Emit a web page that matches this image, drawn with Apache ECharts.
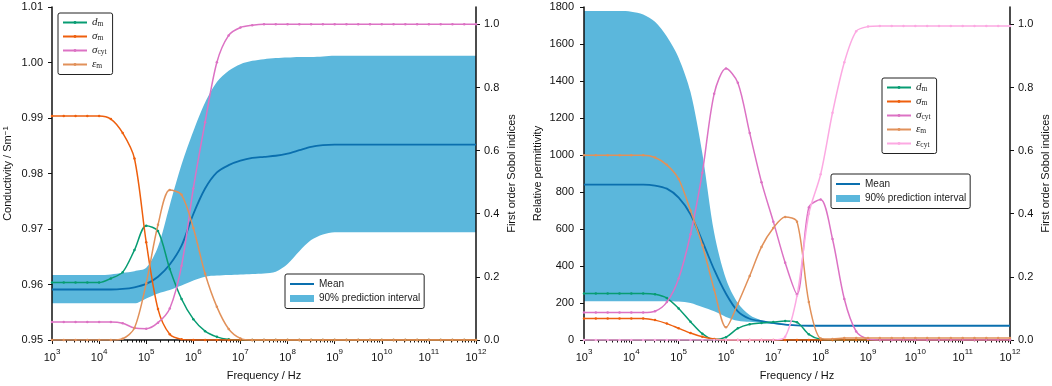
<!DOCTYPE html>
<html>
<head>
<meta charset="utf-8">
<script src="https://cdn.jsdelivr.net/npm/echarts@6/dist/echarts.min.js"></script>
<style>
  html, body { margin: 0; padding: 0; background: #fff; }
  #chart { width: 1052px; height: 386px; }
</style>
</head>
<body>
<div id="chart"></div>
<script>
// sample points, log10(frequency / Hz)
const logFreq = [3, 3.25, 3.5, 3.75, 4, 4.25, 4.5, 4.75, 5, 5.25, 5.5, 5.75, 6, 6.25, 6.5, 6.75,
  7, 7.25, 7.5, 7.75, 8, 8.25, 8.5, 8.75, 9, 9.25, 9.5, 9.75, 10, 10.25, 10.5, 10.75, 11, 11.25, 11.5, 11.75, 12];

// left panel: conductivity
const condMean = [0.9591, 0.9591, 0.9591, 0.9591, 0.9591, 0.9591, 0.9592, 0.9595, 0.9601, 0.9614, 0.9636, 0.9670,
  0.9727, 0.9773, 0.9802, 0.9815, 0.9823, 0.9828, 0.9830, 0.9832, 0.9836, 0.9842, 0.9848, 0.9851,
  0.9852, 0.9852, 0.9852, 0.9852, 0.9852, 0.9852, 0.9852, 0.9852, 0.9852, 0.9852, 0.9852, 0.9852, 0.9852];
const condUpper = [0.9617, 0.9617, 0.9617, 0.9617, 0.9617, 0.9618, 0.9621, 0.9624, 0.9630, 0.9668, 0.9743, 0.9816,
  0.9876, 0.9928, 0.9965, 0.9985, 0.9997, 1.0003, 1.0006, 1.0008, 1.0009, 1.0010, 1.0010, 1.0011,
  1.0012, 1.0012, 1.0012, 1.0012, 1.0012, 1.0012, 1.0012, 1.0012, 1.0012, 1.0012, 1.0012, 1.0012, 1.0012];
const condLower = [0.9566, 0.9566, 0.9566, 0.9566, 0.9566, 0.9566, 0.9566, 0.9566, 0.9575, 0.9584, 0.9590, 0.9598,
  0.9607, 0.9614, 0.9616, 0.9617, 0.9618, 0.9619, 0.9620, 0.9623, 0.9637, 0.9660, 0.9680, 0.9690,
  0.9694, 0.9694, 0.9694, 0.9694, 0.9694, 0.9694, 0.9694, 0.9694, 0.9694, 0.9694, 0.9694, 0.9694, 0.9694];
const condDm = [0.182, 0.182, 0.182, 0.182, 0.182, 0.195, 0.215, 0.285, 0.362, 0.345, 0.225, 0.130,
  0.066, 0.028, 0.010, 0.002, 0, 0, 0, 0, 0, 0, 0, 0, 0, 0, 0, 0, 0, 0, 0, 0, 0, 0, 0, 0, 0];
const condSigmaM = [0.710, 0.710, 0.710, 0.710, 0.710, 0.700, 0.656, 0.575, 0.310, 0.098, 0.018, 0.002,
  0, 0, 0, 0, 0, 0, 0, 0, 0, 0, 0, 0, 0, 0, 0, 0, 0, 0, 0, 0, 0, 0, 0, 0, 0];
const condSigmaCyt = [0.057, 0.057, 0.057, 0.057, 0.057, 0.057, 0.053, 0.038, 0.036, 0.055, 0.100, 0.235,
  0.480, 0.690, 0.880, 0.965, 0.990, 0.997, 1, 1, 1, 1, 1, 1, 1, 1, 1, 1, 1, 1, 1, 1, 1, 1, 1, 1, 1];
const condEpsM = [0, 0, 0, 0, 0, 0, 0.004, 0.038, 0.180, 0.365, 0.475, 0.460,
  0.355, 0.210, 0.105, 0.035, 0.005, 0, 0, 0, 0, 0, 0, 0, 0, 0, 0, 0, 0, 0, 0, 0, 0, 0, 0, 0, 0];

// right panel: relative permittivity
const permMean = [840, 840, 840, 840, 840, 840, 835, 818, 770, 680, 535, 380,
  250, 155, 115, 102, 92, 83, 79, 77, 77, 77, 77, 77, 77, 77, 77, 77, 77, 77, 77, 77, 77, 77, 77, 77, 77];
const permUpper = [1778, 1778, 1778, 1778, 1775, 1760, 1720, 1640, 1525, 1340, 1010, 580,
  330, 200, 135, 106, 95, 86, 80, 77, 77, 77, 77, 77, 77, 77, 77, 77, 77, 77, 77, 77, 77, 77, 77, 77, 77];
const permLower = [210, 210, 210, 210, 210, 210, 210, 210, 208, 200, 178, 155,
  125, 104, 98, 92, 87, 82, 79, 77, 77, 77, 77, 77, 77, 77, 77, 77, 77, 77, 77, 77, 77, 77, 77, 77, 77];
const permDm = [0.147, 0.147, 0.147, 0.147, 0.147, 0.147, 0.145, 0.133, 0.100, 0.058, 0.020, 0.001,
  0.009, 0.037, 0.050, 0.054, 0.057, 0.060, 0.056, 0.018, 0.002, 0, 0, 0, 0, 0, 0, 0, 0, 0, 0, 0, 0, 0, 0, 0, 0];
const permSigmaM = [0.068, 0.068, 0.068, 0.068, 0.068, 0.068, 0.063, 0.052, 0.037, 0.022, 0.010, 0.003,
  0, 0, 0, 0, 0, 0, 0, 0, 0, 0, 0, 0, 0, 0, 0, 0, 0, 0, 0, 0, 0, 0, 0, 0, 0];
const permSigmaCyt = [0.087, 0.087, 0.087, 0.087, 0.087, 0.087, 0.091, 0.120, 0.195, 0.335, 0.530, 0.780,
  0.860, 0.815, 0.656, 0.500, 0.375, 0.245, 0.145, 0.420, 0.445, 0.320, 0.130, 0.027,
  0.003, 0, 0, 0, 0, 0, 0, 0, 0, 0, 0, 0, 0];
const permEpsM = [0.585, 0.585, 0.585, 0.585, 0.585, 0.585, 0.578, 0.555, 0.510, 0.410, 0.300, 0.160,
  0.040, 0.115, 0.203, 0.295, 0.355, 0.390, 0.375, 0.120, 0.005, 0.003, 0.006, 0.006,
  0.006, 0.006, 0.006, 0.006, 0.006, 0.006, 0.006, 0.006, 0.006, 0.006, 0.006, 0.006, 0.006];
const permEpsCyt = [0, 0, 0, 0, 0, 0, 0, 0, 0, 0, 0, 0, 0, 0, 0, 0, 0, 0.010, 0.140, 0.400, 0.525, 0.720, 0.880, 0.978,
  0.993, 0.995, 0.995, 0.995, 0.995, 0.995, 0.995, 0.995, 0.995, 0.995, 0.995, 0.995, 0.995];

// ticks
const sobolTicks = [0, 0.2, 0.4, 0.6, 0.8, 1.0];
const minorTicks = [];
for (let n = 3; n < 12; n++) {
  for (let k = 2; k <= 9; k++) minorTicks.push(n + Math.log10(k));
}

const colors = {
  mean: '#0a6fae',
  band: '#5bb7dc',
  dm: '#079c72',
  sm: '#ee5f0d',
  scyt: '#dc72c4',
  em: '#e1915a',
  ecyt: '#fca9e2'
};

const legendLabels = {
  dm: '{i|d}{s|m}',
  sm: '{i|σ}{s|m}',
  scyt: '{i|σ}{s|cyt}',
  em: '{i|ε}{s|m}',
  ecyt: '{i|ε}{s|cyt}'
};

const pairs = arr => logFreq.map((x, i) => [x, arr[i]]);

const axisColor = '#111';
const font = 'Liberation Sans';

function xAxes(grid) {
  return [
    {
      gridIndex: grid, type: 'value', min: 3, max: 12, interval: 1, position: 'bottom', z: 2,
      axisLine: { show: true, onZero: false, lineStyle: { color: axisColor, width: 1.5 } },
      axisTick: { show: true, length: 4, lineStyle: { color: axisColor, width: 1 } },
      axisLabel: {
        margin: 8, color: '#111',
        formatter: v => '{b|10}{e|' + v + '}',
        rich: {
          b: { fontSize: 11, lineHeight: 15, verticalAlign: 'bottom', fontFamily: font, color: '#111' },
          e: { fontSize: 8, lineHeight: 8, verticalAlign: 'top', fontFamily: font, color: '#111' }
        }
      },
      splitLine: { show: false },
      name: 'Frequency / Hz', nameLocation: 'middle', nameGap: 30,
      nameTextStyle: { fontSize: 11, color: '#111', fontFamily: font }
    },
    {
      gridIndex: grid, type: 'value', min: 3, max: 12, position: 'bottom', z: 2,
      axisLine: { show: false, onZero: false },
      axisLabel: { show: false },
      splitLine: { show: false },
      axisTick: { show: true, length: 2.5, customValues: minorTicks, lineStyle: { color: axisColor, width: 1 } }
    }
  ];
}

function sobolAxis(grid) {
  return {
    gridIndex: grid, type: 'value', position: 'right', min: 0, max: 1.055, z: 2,
    axisLine: { show: true, onZero: false, lineStyle: { color: axisColor, width: 1.5 } },
    axisTick: { show: true, length: 4, customValues: sobolTicks, lineStyle: { color: axisColor } },
    axisLabel: { customValues: sobolTicks, formatter: v => v.toFixed(1), fontSize: 11, color: '#111', margin: 8 },
    splitLine: { show: false },
    name: 'First order Sobol indices', nameLocation: 'middle', nameGap: 30,
    nameTextStyle: { fontSize: 11, color: '#111', fontFamily: font }
  };
}

function sobolLine(name, arr, xIdx, yIdx) {
  return {
    name: name, type: 'line', xAxisIndex: xIdx, yAxisIndex: yIdx,
    data: pairs(arr), smooth: 0.3, symbol: 'circle', symbolSize: 2.5,
    lineStyle: { color: colors[name], width: 1.5 }, itemStyle: { color: colors[name] },
    z: 4, silent: true
  };
}

// band: upper edge filled in blue down to the axis, lower edge filled white on top of it
function bandSeries(hi, lo, xIdx, yIdx) {
  return [
    {
      name: '90% prediction interval', type: 'line', xAxisIndex: xIdx, yAxisIndex: yIdx,
      data: pairs(hi), smooth: 0.3, symbol: 'none',
      lineStyle: { width: 0, opacity: 0 }, itemStyle: { color: colors.band },
      areaStyle: { color: colors.band, opacity: 1, origin: 'start' }, z: 1, silent: true
    },
    {
      name: 'bandLower', type: 'line', xAxisIndex: xIdx, yAxisIndex: yIdx,
      data: pairs(lo), smooth: 0.3, symbol: 'none',
      lineStyle: { width: 0, opacity: 0 }, itemStyle: { color: '#fff' },
      areaStyle: { color: '#fff', opacity: 1, origin: 'start' }, z: 1, silent: true
    }
  ];
}

function meanLine(arr, xIdx, yIdx) {
  return {
    name: 'Mean', type: 'line', xAxisIndex: xIdx, yAxisIndex: yIdx, data: pairs(arr),
    smooth: 0.3, symbol: 'none', lineStyle: { color: colors.mean, width: 1.8 },
    itemStyle: { color: colors.mean }, z: 3, silent: true
  };
}

const legendBox = {
  orient: 'vertical', backgroundColor: '#fff', borderColor: '#222', borderWidth: 1, borderRadius: 2,
  itemWidth: 24, z: 10, selectedMode: false
};

function sobolLegend(left, top, names) {
  return Object.assign({}, legendBox, {
    left: left, top: top, padding: [4, 6, 4, 4], data: names, itemHeight: 3.5, itemGap: 2.5,
    formatter: n => legendLabels[n],
    textStyle: {
      color: '#222',
      rich: {
        i: { fontFamily: 'Liberation Serif', fontStyle: 'italic', fontSize: 11, lineHeight: 12, verticalAlign: 'middle', color: '#222' },
        s: { fontFamily: 'Liberation Serif', fontSize: 7.5, lineHeight: 7, verticalAlign: 'bottom', color: '#222' }
      }
    }
  });
}

function meanLegend(left, top) {
  return Object.assign({}, legendBox, {
    left: left, top: top, padding: [4, 4, 4, 4], itemHeight: 7, itemGap: 2.5,
    data: [
      { name: 'Mean', itemStyle: { opacity: 0 } },
      { name: '90% prediction interval', icon: 'rect' }
    ],
    textStyle: { color: '#222', fontSize: 10, fontFamily: font, lineHeight: 12 }
  });
}

const chart = echarts.init(document.getElementById('chart'), null, { renderer: 'canvas' });

chart.setOption({
  animation: false,
  backgroundColor: '#fff',
  textStyle: { fontFamily: font },
  grid: [
    { left: 52, top: 7, width: 424, height: 334 },
    { left: 584, top: 7, width: 426, height: 334 }
  ],
  xAxis: xAxes(0).concat(xAxes(1)),
  yAxis: [
    {
      gridIndex: 0, type: 'value', min: 0.95, max: 1.01, interval: 0.01, z: 2,
      axisLine: { show: true, onZero: false, lineStyle: { color: axisColor, width: 1.5 } },
      axisTick: { show: true, length: 4, lineStyle: { color: axisColor } },
      axisLabel: { formatter: v => v.toFixed(2), fontSize: 11, color: '#111', margin: 9 },
      splitLine: { show: false },
      name: 'Conductivity / Sm{s|−1}', nameLocation: 'middle', nameGap: 39,
      nameTextStyle: {
        fontSize: 11, color: '#111', fontFamily: font,
        rich: { s: { fontSize: 8, lineHeight: 8, verticalAlign: 'top', fontFamily: font, color: '#111' } }
      }
    },
    sobolAxis(0),
    {
      gridIndex: 1, type: 'value', min: 0, max: 1800, interval: 200, z: 2,
      axisLine: { show: true, onZero: false, lineStyle: { color: axisColor, width: 1.5 } },
      axisTick: { show: true, length: 4, lineStyle: { color: axisColor } },
      axisLabel: { formatter: v => String(v), fontSize: 11, color: '#111', margin: 10 },
      splitLine: { show: false },
      name: 'Relative permittivity', nameLocation: 'middle', nameGap: 41,
      nameTextStyle: { fontSize: 11, color: '#111', fontFamily: font }
    },
    sobolAxis(1)
  ],
  legend: [
    sobolLegend(58, 13, ['dm', 'sm', 'scyt', 'em']),
    meanLegend(285, 274),
    sobolLegend(882, 78, ['dm', 'sm', 'scyt', 'em', 'ecyt']),
    meanLegend(831, 174)
  ],
  series: [
    ...bandSeries(condUpper, condLower, 0, 0),
    meanLine(condMean, 0, 0),
    sobolLine('dm', condDm, 0, 1),
    sobolLine('sm', condSigmaM, 0, 1),
    sobolLine('scyt', condSigmaCyt, 0, 1),
    sobolLine('em', condEpsM, 0, 1),

    ...bandSeries(permUpper, permLower, 2, 2),
    meanLine(permMean, 2, 2),
    sobolLine('dm', permDm, 2, 3),
    sobolLine('sm', permSigmaM, 2, 3),
    sobolLine('scyt', permSigmaCyt, 2, 3),
    sobolLine('em', permEpsM, 2, 3),
    sobolLine('ecyt', permEpsCyt, 2, 3)
  ]
});
</script>
</body>
</html>
